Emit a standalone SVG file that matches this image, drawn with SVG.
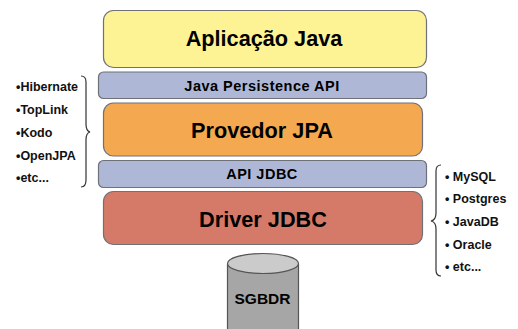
<svg xmlns="http://www.w3.org/2000/svg" width="518" height="329" viewBox="0 0 518 329">
<style>
text{font-family:"Liberation Sans",Arial,sans-serif;font-weight:bold;fill:#000;text-anchor:middle}
.box{stroke:#6f7178;stroke-width:1.2}
.big{font-size:21.7px}
.mid{font-size:14.5px;letter-spacing:.5px}
.item{font-size:12.5px;text-anchor:start;fill:#111}
.brace{fill:none;stroke:#333;stroke-width:1.2}
</style>
<rect width="518" height="329" fill="#fff"/>
<g id="aplicacao"><rect class="box" x="103.500" y="10.500" width="323" height="57" rx="10" fill="#fdf394"/><text class="big" x="264" y="46">Aplicação Java</text></g>
<g id="jpa-api"><rect class="box" x="98.500" y="72" width="328" height="26.500" rx="5" fill="#aeb8d6"/><text class="mid" x="262" y="91">Java Persistence API</text></g>
<g id="provedor"><rect class="box" x="103.500" y="103" width="319" height="53" rx="10" fill="#f4a950"/><text class="big" x="262" y="138">Provedor JPA</text></g>
<g id="api-jdbc"><rect class="box" x="98.500" y="160.500" width="328" height="27" rx="5" fill="#aeb8d6"/><text class="mid" x="262" y="179">API JDBC</text></g>
<g id="driver"><rect class="box" x="103.500" y="191.500" width="319" height="53" rx="10" fill="#d57a68"/><text class="big" x="263" y="227">Driver JDBC</text></g>
<g id="sgbdr">
<path d="M227.500 264V335H298.500V264" fill="#a6a6a6" stroke="#555" stroke-width="1.2"/>
<ellipse cx="263" cy="263.500" rx="35.500" ry="10" fill="#cbcbcb" stroke="#555" stroke-width="1.200"/>
<text x="262.500" y="304" style="font-size:15.5px">SGBDR</text>
</g>
<g id="connectors">
<path class="brace" d="M81 76Q86 76 86 82V124Q86 131 90 132Q86 133 86 140V180Q86 187 81 187"/>
<path class="brace" d="M441 165Q436 165 436 171V213Q436 220 431 221Q436 222 436 229V270Q436 276 441 276"/>
</g>
<g id="lista-jpa">
<text class="item" x="16" y="91">•Hibernate</text>
<text class="item" x="16" y="114">•TopLink</text>
<text class="item" x="16" y="137">•Kodo</text>
<text class="item" x="16" y="160">•OpenJPA</text>
<text class="item" x="16" y="182">•etc...</text>
</g>
<g id="lista-jdbc">
<text class="item" x="445" y="181">• MySQL</text>
<text class="item" x="445" y="203">• Postgres</text>
<text class="item" x="445" y="226">• JavaDB</text>
<text class="item" x="445" y="249">• Oracle</text>
<text class="item" x="445" y="271">• etc...</text>
</g>
</svg>
